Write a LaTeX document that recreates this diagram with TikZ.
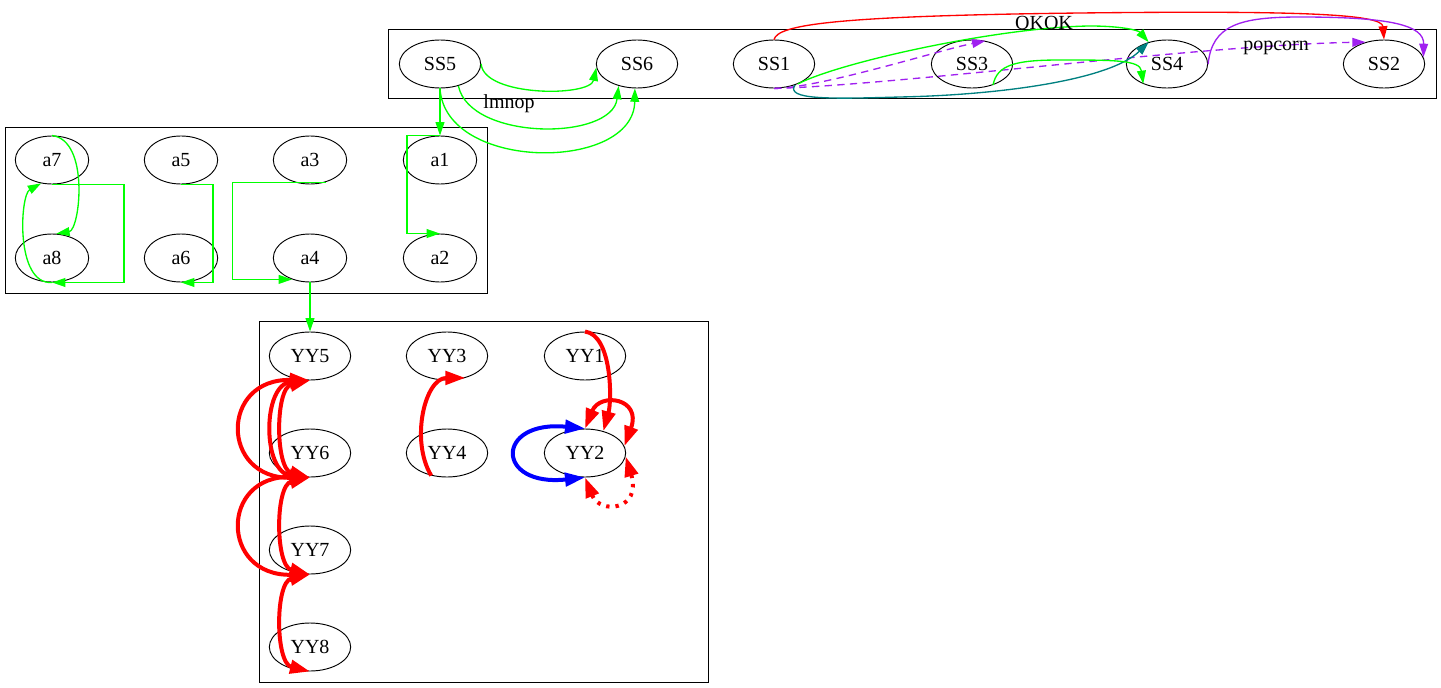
\documentclass[tikz,border=0pt]{standalone}
\usepackage{fontspec}
\setmainfont{Liberation Serif}
\usepackage{tikz}
\usetikzlibrary{arrows.meta,shapes.geometric}
\definecolor{gvgreen}{HTML}{00FF00}
\definecolor{gvpurple}{HTML}{A020F0}
\definecolor{gvteal}{HTML}{008080}

\begin{document}
\begin{tikzpicture}[x=0.75pt, y=-0.75pt,
    every node/.style={font=\fontsize{15}{17}\selectfont},
    oval/.style={ellipse, draw, line width=0.7pt, inner sep=0pt, minimum width=61pt, minimum height=36pt},
    ovalsmall/.style={oval, minimum width=55pt},
    cluster/.style={draw, line width=0.7pt},
    gline/.style={gvgreen, line width=1pt, -{Triangle[length=10pt,width=6.6pt]}},
    pline/.style={gvpurple, line width=1pt, -{Triangle[length=10pt,width=6.6pt]}},
    tline/.style={gvteal, line width=1pt, -{Triangle[length=10pt,width=6.6pt]}},
    rthin/.style={red, line width=1pt, -{Triangle[length=10pt,width=6.6pt]}},
    rline/.style={red, line width=3pt, -{Triangle[length=15pt,width=10pt]}},
    rboth/.style={red, line width=3pt, {Triangle[length=15pt,width=10pt]}-{Triangle[length=15pt,width=10pt]}},
    bboth/.style={blue, line width=3pt, {Triangle[length=15pt,width=10pt]}-{Triangle[length=15pt,width=10pt]}},
    dashes/.style={dash pattern=on 5.5pt off 4pt},
    dots/.style={dash pattern=on 2.5pt off 4.5pt}]
    \useasboundingbox (0,0) rectangle (1441,688);

    % Draw the three clusters
    \draw[cluster] (388,29) rectangle (1436,98);
    \draw[cluster] (5,127) rectangle (487,293);
    \draw[cluster] (259,321) rectangle (708,682);

    % Place the nodes of each cluster
    \foreach \n/\x in {SS5/440, SS6/637, SS1/774, SS3/972, SS4/1167, SS2/1384}
        \node[oval] (\n) at (\x,64) {\n};
    \foreach \n/\x/\y in {a7/52/160, a5/181/160, a3/310/160, a1/440/160, a8/52/258, a6/181/258, a4/310/258, a2/440/258}
        \node[ovalsmall] (\n) at (\x,\y) {\n};
    \foreach \n/\x/\y in {YY5/310/356, YY3/447/356, YY1/585/356, YY6/310/453, YY4/447/453, YY2/585/453, YY7/310/550, YY8/310/647}
        \node[oval] (\n) at (\x,\y) {\n};

    % Edges of the top cluster
    \draw[gline] (SS5.east) .. controls (484,97) and (590,97) .. (SS6.185);
    \draw[gline] (SS5.-50) .. controls (470,141) and (612,141) .. (SS6.-130);
    \node (lmnop) at (509,104) {lmnop};
    \draw[gline] (SS5.south) .. controls (445,172) and (634,172) .. (SS6.-95);
    \draw[rthin] (SS1.north) .. controls (778,25) and (830,16) .. (1080,13) .. controls (1300,10.5) and (1382,14) .. (SS2.north);
    \draw[gline] (SS1.-40) .. controls (840,62) and (1000,27) .. (1090,26) .. controls (1120,26) and (1138,30) .. (SS4.130);
    \node (okok) at (1044,23) {OKOK};
    \draw[pline, dashes] (SS1.south) .. controls (820,88) and (940,50) .. (SS3.60);
    \draw[pline, dashes] (SS1.south) .. controls (900,85) and (1200,45) .. (SS2.130);
    \node (popcorn) at (1276,48) {popcorn};
    \draw[tline] (SS1.-45) .. controls (785,100) and (830,99) .. (900,97) .. controls (1000,95) and (1110,80) .. (SS4.130);
    \draw[gline] (SS3.-45) .. controls (997,65) and (1015,60) .. (1060,60) .. controls (1115,60) and (1140,60) .. (SS4.-140);
    \draw[pline] (SS4.east) .. controls (1212,25) and (1240,17) .. (1300,17) .. controls (1390,17) and (1424,25) .. (SS2.10);

    % Edges into and inside the middle cluster
    \draw[gline] (SS5.south) -- (a1.north);
    \draw[gline] (a7.north) .. controls (90,140) and (80,230) .. (a8.80);
    \draw[gline] (a8.south) .. controls (15,285) and (20,195) .. (a7.-115);
    \draw[gline] (a7.south) -- ++(72,0) |- (a8.south);
    \draw[gline] (a5.south) -- ++(32,0) |- (a6.south);
    \draw[gline] (a3.-55) -- ++(-93,0) |- (a4.-130);
    \draw[gline] (a1.north) -- ++(-33,0) |- (a2.north);
    \draw[gline] (a4.south) -- (YY5.north);

    % Edges of the bottom cluster
    \draw[rboth] (YY5.south) .. controls (220,378) and (220,479) .. (YY6.south);
    \draw[rboth] (YY5.south) .. controls (262,384) and (262,473) .. (YY6.south);
    \draw[rboth] (YY5.south) .. controls (275,388) and (275,469) .. (YY6.south);
    \draw[rboth] (YY6.south) .. controls (220,475) and (220,576) .. (YY7.south);
    \draw[rboth] (YY6.south) .. controls (275,485) and (275,566) .. (YY7.south);
    \draw[rboth] (YY7.south) .. controls (275,582) and (275,663) .. (YY8.south);
    \draw[rline] (YY4.-125) .. controls (410,440) and (425,378) .. (YY3.-50);
    \draw[rline] (YY1.north) .. controls (612,335) and (612,400) .. (YY2.50);
    \draw[rboth] (YY2.north) .. controls (600,392) and (642,398) .. (YY2.10);
    \draw[bboth] (YY2.north) .. controls (495,420) and (495,487) .. (YY2.south);
    \draw[rboth, dots] (YY2.south) .. controls (600,515) and (642,510) .. (YY2.-5);
\end{tikzpicture}
\end{document}
